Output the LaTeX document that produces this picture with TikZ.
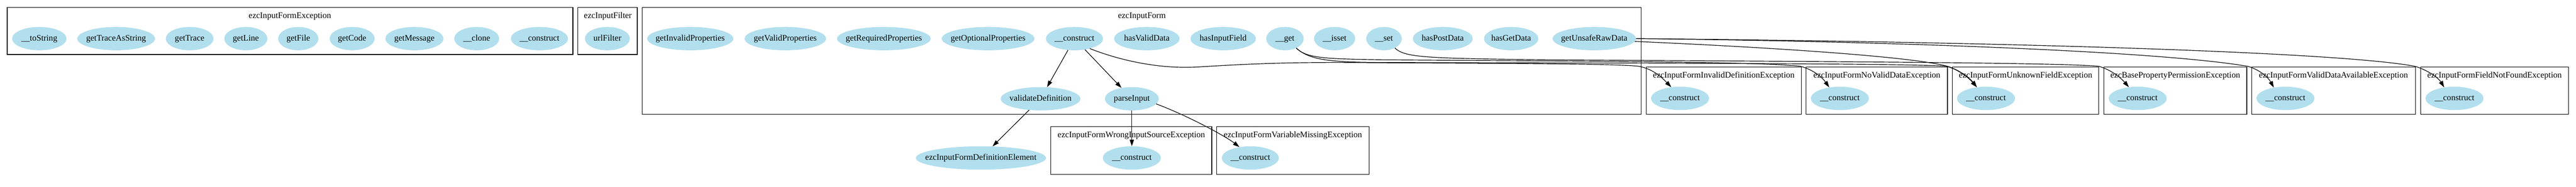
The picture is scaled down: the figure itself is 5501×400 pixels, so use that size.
\documentclass[tikz,border=0pt]{standalone}
\usepackage{fontspec}
\setmainfont{Liberation Serif}
\usetikzlibrary{shapes.geometric,arrows.meta}
\definecolor{nodeblue}{RGB}{178,223,238}
\tikzset{
  fn/.style={ellipse, fill=nodeblue, draw=none, inner sep=0pt, minimum height=50pt,
    font=\fontsize{18.2}{20}\selectfont, text height=13pt, text depth=4pt},
  clusterbox/.style={draw=black, line width=1.4pt},
  clabel/.style={inner sep=0pt, font=\fontsize{18.2}{20}\selectfont, text height=13pt, text depth=4pt},
  edge/.style={draw=black, line width=1.3pt, -{Triangle[length=14pt,width=9pt]}},
}
\begin{document}
\begin{tikzpicture}[x=1pt,y=-1pt]
\useasboundingbox (0,0) rectangle (5501,400);
% clusters
\draw[clusterbox] (15.4,15.7) rectangle (1223.5,116.7);
\node[clabel] (l1) at (619,34.3) {ezcInputFormException};
\draw[clusterbox] (1234,15.7) rectangle (1361,116.7);
\node[clabel] (l2) at (1298,34.3) {ezcInputFilter};
\draw[clusterbox] (1371.5,15.7) rectangle (3505,245);
\node[clabel] (l3) at (2438.5,34.3) {ezcInputForm};
\draw[clusterbox] (3515.4,143.3) rectangle (3846.5,245);
\node[clabel] (l4) at (3681,162.3) {ezcInputFormInvalidDefinitionException};
\draw[clusterbox] (3857,143.3) rectangle (4158.7,245);
\node[clabel] (l5) at (4008,162.3) {ezcInputFormNoValidDataException};
\draw[clusterbox] (4169,143.3) rectangle (4482,245);
\node[clabel] (l6) at (4325.5,162.3) {ezcInputFormUnknownFieldException};
\draw[clusterbox] (4492.6,143.3) rectangle (4797.8,245);
\node[clabel] (l7) at (4645.2,162.3) {ezcBasePropertyPermissionException};
\draw[clusterbox] (4808,143.3) rectangle (5158.3,245);
\node[clabel] (l8) at (4983,162.3) {ezcInputFormValidDataAvailableException};
\draw[clusterbox] (5169.6,143.3) rectangle (5484.6,245);
\node[clabel] (l9) at (5327,162.3) {ezcInputFormFieldNotFoundException};
\draw[clusterbox] (2244,271) rectangle (2587.7,373.3);
\node[clabel] (l10) at (2416,290) {ezcInputFormWrongInputSourceException};
\draw[clusterbox] (2598,271) rectangle (2923.7,373.3);
\node[clabel] (l11) at (2761,290) {ezcInputFormVariableMissingException};
% ezcInputFormException
\node[fn, minimum width=116pt] (tostring) at (84,82.7) {\makebox[0pt]{\_\_toString}};
\node[fn, minimum width=166pt] (gettas) at (248,82.7) {\makebox[0pt]{getTraceAsString}};
\node[fn, minimum width=102pt] (gettrace) at (405,82.7) {\makebox[0pt]{getTrace}};
\node[fn, minimum width=92pt] (getline) at (525,82.7) {\makebox[0pt]{getLine}};
\node[fn, minimum width=86pt] (getfile) at (637,82.7) {\makebox[0pt]{getFile}};
\node[fn, minimum width=96pt] (getcode) at (752,82.7) {\makebox[0pt]{getCode}};
\node[fn, minimum width=124pt] (getmessage) at (885,82.7) {\makebox[0pt]{getMessage}};
\node[fn, minimum width=96pt] (clone) at (1018,82.7) {\makebox[0pt]{\_\_clone}};
\node[fn, minimum width=122pt] (exconstruct) at (1152,82.7) {\makebox[0pt]{\_\_construct}};
% ezcInputFilter
\node[fn, minimum width=96pt] (urlfilter) at (1297,82.7) {\makebox[0pt]{urlFilter}};
% ezcInputForm
\node[fn, minimum width=184pt] (getinvalid) at (1474,82.7) {\makebox[0pt]{getInvalidProperties}};
\node[fn, minimum width=174pt] (getvalid) at (1677,82.7) {\makebox[0pt]{getValidProperties}};
\node[fn, minimum width=200pt] (getrequired) at (1887.5,82.7) {\makebox[0pt]{getRequiredProperties}};
\node[fn, minimum width=198pt] (getoptional) at (2110,82.7) {\makebox[0pt]{getOptionalProperties}};
\node[fn, minimum width=122pt] (fconstruct) at (2294.5,82.7) {\makebox[0pt]{\_\_construct}};
\node[fn, minimum width=140pt] (hasvaliddata) at (2449,82.7) {\makebox[0pt]{hasValidData}};
\node[fn, minimum width=140pt] (hasinputfield) at (2612,82.7) {\makebox[0pt]{hasInputField}};
\node[fn, minimum width=80pt] (fget) at (2744,82.7) {\makebox[0pt]{\_\_get}};
\node[fn, minimum width=88pt] (fisset) at (2850,82.7) {\makebox[0pt]{\_\_isset}};
\node[fn, minimum width=76pt] (fset) at (2955.5,82.7) {\makebox[0pt]{\_\_set}};
\node[fn, minimum width=128pt] (haspostdata) at (3081,82.7) {\makebox[0pt]{hasPostData}};
\node[fn, minimum width=116pt] (hasgetdata) at (3227,82.7) {\makebox[0pt]{hasGetData}};
\node[fn, minimum width=178pt] (getunsaferaw) at (3404.5,82.7) {\makebox[0pt]{getUnsafeRawData}};
\node[fn, minimum width=170pt] (validatedef) at (2222,211.5) {\makebox[0pt]{validateDefinition}};
\node[fn, minimum width=115pt] (parseinput) at (2417,211.5) {\makebox[0pt]{parseInput}};
% outside
\node[fn, minimum width=278pt] (defelement) at (2094.6,338.3) {\makebox[0pt]{ezcInputFormDefinitionElement}};
\node[fn, minimum width=124pt] (wisconstruct) at (2417,338.3) {\makebox[0pt]{\_\_construct}};
\node[fn, minimum width=122pt] (vmconstruct) at (2670,338.3) {\makebox[0pt]{\_\_construct}};
\node[fn, minimum width=124pt] (invconstruct) at (3587.7,210.7) {\makebox[0pt]{\_\_construct}};
\node[fn, minimum width=124pt] (nvconstruct) at (3929,210.7) {\makebox[0pt]{\_\_construct}};
\node[fn, minimum width=124pt] (ufconstruct) at (4241,210.7) {\makebox[0pt]{\_\_construct}};
\node[fn, minimum width=124pt] (bpconstruct) at (4565,210.7) {\makebox[0pt]{\_\_construct}};
\node[fn, minimum width=124pt] (vdconstruct) at (4880.5,210.7) {\makebox[0pt]{\_\_construct}};
\node[fn, minimum width=124pt] (fnfconstruct) at (5241.5,210.7) {\makebox[0pt]{\_\_construct}};
% edges
\draw[edge] (fconstruct) -- (validatedef);
\draw[edge] (fconstruct) -- (parseinput);
\draw[edge] (validatedef) -- (defelement);
\draw[edge] (parseinput) -- (wisconstruct);
\draw[edge] (parseinput.-12) .. controls (2530,245) and (2615,290) .. (vmconstruct.135);
\draw[edge] (fconstruct.-33) .. controls (2380,125) and (2470,150) .. (2565,143)
  .. controls (2680,136) and (2760,133) .. (2900,134)
  .. controls (3200,136) and (3450,136) .. (3500,142)
  .. controls (3530,148) and (3548,165) .. (invconstruct.128);
\draw[edge] (fget.-40) .. controls (2790,125) and (2830,126) .. (2950,128)
  .. controls (3300,131) and (3750,131) .. (3845,142)
  .. controls (3875,150) and (3893,168) .. (nvconstruct.134);
\draw[edge] (fget.-40) .. controls (2800,132) and (2850,134) .. (3000,134)
  .. controls (3500,135) and (4100,136) .. (4157,142)
  .. controls (4185,150) and (4205,168) .. (ufconstruct.129);
\draw[edge] (fset.-41) .. controls (3000,123) and (3040,125) .. (3300,128)
  .. controls (3900,132) and (4400,134) .. (4482,142)
  .. controls (4510,150) and (4530,168) .. (bpconstruct.128);
\draw[edge] (getunsaferaw.-4) .. controls (3750,100) and (4080,120) .. (4159,142)
  .. controls (4185,150) and (4207,168) .. (ufconstruct.129);
\draw[edge] (getunsaferaw.east) .. controls (4000,88) and (4600,108) .. (4800,142)
  .. controls (4828,150) and (4845,168) .. (vdconstruct.137);
\draw[edge] (getunsaferaw.east) .. controls (4300,90) and (5000,112) .. (5157,142)
  .. controls (5185,150) and (5208,168) .. (fnfconstruct.133);
\end{tikzpicture}
\end{document}
